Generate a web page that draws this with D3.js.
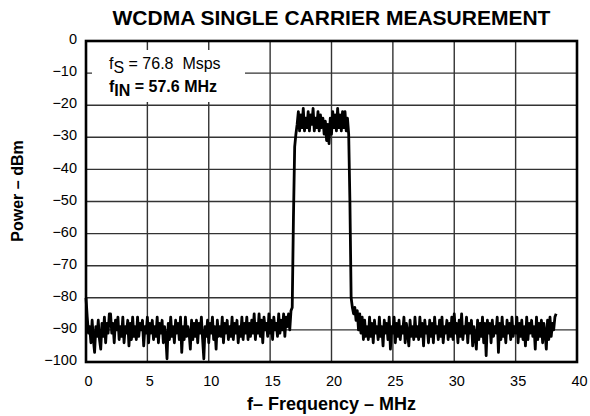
<!DOCTYPE html>
<html><head><meta charset="utf-8">
<script src="https://cdn.jsdelivr.net/npm/d3@7"></script>
<style>
body{margin:0;background:#fff;}
svg{display:block;font-family:"Liberation Sans",Arial,sans-serif;}
</style></head>
<body><svg id="c" width="590" height="416"></svg>
<script>
const title = "WCDMA SINGLE CARRIER MEASUREMENT";
const xLabel = "f– Frequency – MHz";
const yLabel = "Power – dBm";
const xTicks = [0,5,10,15,20,25,30,35,40];
const yTicks = [0,-10,-20,-30,-40,-50,-60,-70,-80,-90,-100];
const freqStart = 0;      // MHz
const freqStep = 0.1;     // MHz per sample
// measured power (dBm), one row per MHz
const power = [
 -80,-86,-91,-89,-94,-87,-93,-97,-89,-92,
 -87,-93,-96,-88,-92,-86,-94,-88,-91,-85,
 -85,-91,-88,-94,-87,-90,-86,-93,-89,-92,
 -86,-94,-89,-91,-87,-95,-88,-93,-86,-92,
 -89,-93,-86,-92,-88,-90,-87,-95,-89,-91,
 -86,-94,-88,-91,-87,-93,-89,-92,-86,-94,
 -88,-91,-87,-94,-89,-92,-99,-88,-93,-86,
 -92,-89,-94,-87,-91,-88,-93,-86,-97,-89,
 -93,-86,-92,-89,-91,-96,-87,-93,-88,-92,
 -87,-94,-88,-91,-86,-93,-99,-89,-92,-87,
 -94,-88,-91,-86,-93,-89,-96,-87,-92,-89,
 -92,-86,-94,-88,-91,-87,-93,-89,-92,-86,
 -93,-88,-91,-87,-94,-89,-92,-86,-93,-88,
 -91,-86,-93,-88,-92,-87,-91,-85,-93,-88,
 -91,-85,-92,-87,-94,-86,-90,-88,-92,-85,
 -91,-87,-93,-86,-90,-88,-92,-85,-91,-87,
 -90,-85,-92,-86,-89,-85,-90,-84,-83,-55,
 -33,-29,-26,-22,-28,-23,-27,-21,-28,-24,
 -27,-22,-28,-23,-26,-21,-28,-24,-27,-22,
 -28,-23,-27,-24,-29,-25,-31,-26,-32,-24,
 -29,-22,-27,-23,-28,-21,-27,-23,-28,-22,
 -27,-22,-28,-24,-29,-50,-80,-83,-85,-83,
 -87,-84,-90,-85,-91,-86,-93,-87,-92,-89,
 -93,-86,-92,-88,-94,-87,-91,-89,-93,-86,
 -92,-89,-95,-87,-91,-88,-93,-86,-96,-89,
 -91,-86,-94,-88,-92,-87,-93,-89,-91,-86,
 -94,-88,-91,-95,-87,-92,-89,-93,-86,-92,
 -89,-93,-86,-92,-88,-95,-87,-91,-89,-94,
 -87,-92,-88,-94,-86,-91,-89,-93,-87,-92,
 -86,-94,-89,-91,-87,-93,-88,-92,-86,-93,
 -85,-91,-88,-94,-87,-92,-85,-93,-89,-91,
 -86,-94,-88,-91,-87,-95,-89,-92,-96,-87,
 -93,-88,-92,-86,-94,-88,-98,-87,-91,-88,
 -94,-87,-92,-89,-91,-86,-97,-88,-93,-86,
 -92,-89,-94,-87,-91,-88,-93,-86,-92,-89,
 -91,-86,-94,-88,-92,-87,-93,-89,-95,-86,
 -93,-88,-91,-87,-92,-89,-96,-86,-93,-88,
 -92,-87,-94,-88,-91,-96,-87,-93,-86,-92,
 -88,-90,-86,-85
];

const svg = d3.select("#c");
const L=86, R=577, T=41, B=362;
const x = d3.scaleLinear().domain([0,40]).range([L,R]);
const y = d3.scaleLinear().domain([0,-100]).range([T,B]);
const fmt = v => v < 0 ? "\u2212" + Math.abs(v) : String(v);

// grid
const grid = svg.append("g").attr("stroke","#333").attr("stroke-width",1.4);
grid.selectAll("line.v").data(xTicks.slice(1,-1)).join("line")
  .attr("x1",d=>x(d)).attr("x2",d=>x(d)).attr("y1",T).attr("y2",B);
grid.selectAll("line.h").data(yTicks.slice(1,-1)).join("line")
  .attr("x1",L).attr("x2",R).attr("y1",d=>y(d)).attr("y2",d=>y(d));

// legend background
svg.append("rect").attr("x",92).attr("y",50).attr("width",153).attr("height",52).attr("fill","#fff");

// trace
const line = d3.line().x((d,i)=>x(freqStart + i*freqStep)).y(d=>y(d));
svg.append("path").datum(power).attr("d",line)
  .attr("fill","none").attr("stroke","#000").attr("stroke-width",2.8).attr("stroke-linejoin","round");

// frame
svg.append("rect").attr("x",L).attr("y",T).attr("width",R-L).attr("height",B-T)
  .attr("fill","none").attr("stroke","#000").attr("stroke-width",2.6);

// axes labels
const xa = svg.append("g").attr("transform",`translate(2,${B})`)
  .call(d3.axisBottom(x).tickValues(xTicks).tickSize(0).tickPadding(14).tickFormat(fmt));
const ya = svg.append("g").attr("transform",`translate(${L},-2)`)
  .call(d3.axisLeft(y).tickValues(yTicks).tickSize(0).tickPadding(9).tickFormat(fmt));
[xa,ya].forEach(a=>{a.select(".domain").remove();
  a.selectAll("text").attr("font-size",14.5).attr("fill","#000").attr("font-family","Liberation Sans, Arial, sans-serif");});

// titles
svg.append("text").attr("x",(L+R)/2).attr("y",25).attr("text-anchor","middle")
  .attr("font-size",21).attr("font-weight","bold").text(title);
svg.append("text").attr("x",(L+R)/2).attr("y",410).attr("text-anchor","middle")
  .attr("font-size",18).attr("font-weight","bold").text(xLabel);
svg.append("text").attr("transform","translate(23,191) rotate(-90)").attr("text-anchor","middle")
  .attr("font-size",16).attr("font-weight","bold").text(yLabel);

// legend text
const t1 = svg.append("text").attr("x",109).attr("y",69).attr("font-size",16);
t1.append("tspan").text("f");
t1.append("tspan").attr("dy",4).text("S");
t1.append("tspan").attr("dy",-4).text(" = 76.8 \u00a0Msps");
const t2 = svg.append("text").attr("x",109).attr("y",92).attr("font-size",16).attr("font-weight","bold");
t2.append("tspan").text("f");
t2.append("tspan").attr("dy",4).text("IN");
t2.append("tspan").attr("dy",-4).text(" = 57.6 MHz");
</script></body></html>
